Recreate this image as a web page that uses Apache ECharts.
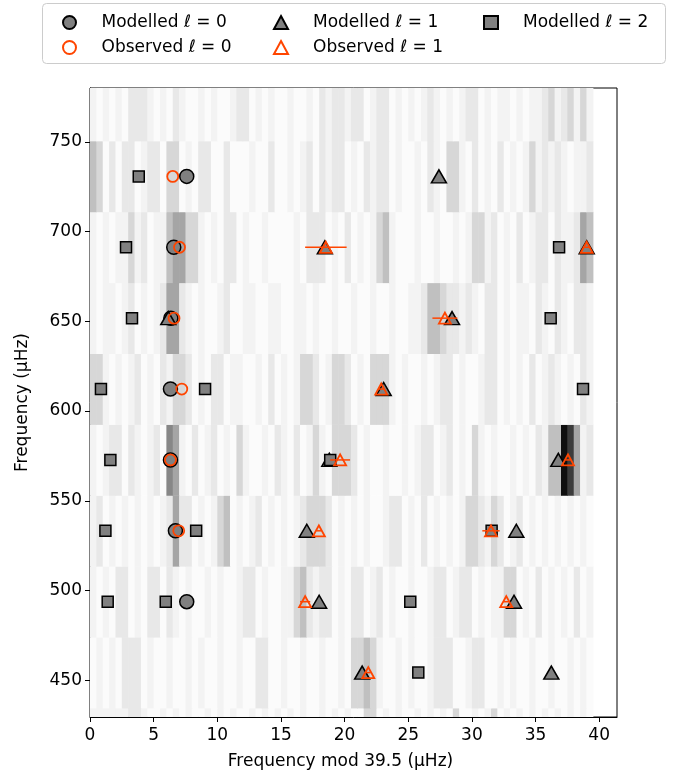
<!DOCTYPE html>
<html>
<head>
<meta charset="utf-8">
<script src="https://cdn.jsdelivr.net/npm/echarts@6/dist/echarts.min.js"></script>
<style>
  html, body { margin: 0; padding: 0; background: #fff; }
  #chart { width: 682px; height: 778px; }
</style>
</head>
<body>
<div id="chart"></div>
<script>
// Large frequency separation used to fold the spectrum (µHz)
const DELTA_NU = 39.5;
// Width of one power bin across each order (µHz)
const BIN_WIDTH = 0.5;

// Lower edge of each echelle order (µHz)
const orderStarts = [395, 434.5, 474, 513.5, 553, 592.5, 632, 671.5, 711, 750.5];

// Smoothed power per order, one digit (0 = none, 9 = max) per 0.5 µHz bin
const orderPower = [
  "1111112210" + "0101010010" + "1010010101" + "0101001010" + "1003301010" + "0101010300" + "1013010101" + "010101010",
  "0101022201" + "0010010100" + "1001002200" + "1001001001" + "0334310010" + "1001222001" + "2200101001" + "001001010",
  "1010220102" + "2021010010" + "1001220100" + "1134212201" + "0220120100" + "1001220122" + "0101133010" + "201010201",
  "1201010101" + "0125220101" + "3401012010" + "1012333201" + "0101001220" + "1020101013" + "3213201201" + "010101010",
  "1012202101" + "2065102012" + "0103100102" + "1020131033" + "3201001001" + "0122012010" + "3101001010" + "214498512",
  "3310101201" + "0213320102" + "2011001020" + "1013320133" + "2010333101" + "0010122010" + "0122010102" + "012101021",
  "1011012010" + "1255210100" + "1200110011" + "0011010010" + "0100100100" + "1124432212" + "1022010110" + "210210221",
  "1010113120" + "1145533101" + "0220100100" + "0010222010" + "2010134100" + "0100100101" + "3312010201" + "220211254",
  "4302022012" + "2033010220" + "0200010020" + "0101202122" + "0102122010" + "0102103310" + "2010201013" + "121210112",
  "1010102221" + "0102100101" + "0012201010" + "0100102122" + "1220122010" + "1012101012" + "2010110101" + "123123131"
];

// Mode positions: [frequency mod 39.5, order centre] in µHz
const modelledL0 = [
  [7.60, 730.75], [6.58, 691.25], [6.35, 651.75], [6.32, 612.25],
  [6.32, 572.75], [6.71, 533.25], [7.60, 493.75]
];
const modelledL1 = [
  [27.41, 730.75], [18.45, 691.25], [39.02, 691.25], [6.15, 651.75],
  [28.44, 651.75], [23.07, 612.25], [18.80, 572.75], [36.79, 572.75],
  [17.03, 533.25], [33.49, 533.25], [18.00, 493.75], [33.31, 493.75],
  [21.38, 454.25], [36.24, 454.25]
];
const modelledL2 = [
  [3.83, 730.75], [2.83, 691.25], [36.85, 691.25], [3.30, 651.75],
  [36.19, 651.75], [0.86, 612.25], [9.04, 612.25], [38.73, 612.25],
  [1.60, 572.75], [18.87, 572.75], [1.21, 533.25], [8.34, 533.25],
  [31.55, 533.25], [1.39, 493.75], [5.95, 493.75], [25.16, 493.75],
  [25.79, 454.25]
];
// Observed modes: [frequency mod 39.5, order centre, 1-sigma uncertainty]
const observedL0 = [
  [6.50, 730.75, 0.1], [7.03, 691.25, 0.1], [6.60, 651.75, 0.1],
  [7.21, 612.25, 0.1], [6.32, 572.75, 0.1], [6.97, 533.25, 0.1]
];
const observedL1 = [
  [18.53, 691.25, 1.63], [39.02, 691.25, 0.3], [27.88, 651.75, 0.98],
  [22.88, 612.25, 0.2], [19.65, 572.75, 0.78], [37.55, 572.75, 0.2],
  [17.98, 533.25, 0.2], [31.50, 533.25, 0.68], [16.90, 493.75, 0.4],
  [32.70, 493.75, 0.2], [21.86, 454.25, 0.2]
];

const xTicks = [0, 5, 10, 15, 20, 25, 30, 35, 40];
const yTicks = [450, 500, 550, 600, 650, 700, 750];

const seriesNames = ['Modelled ℓ = 0', 'Modelled ℓ = 1', 'Modelled ℓ = 2', 'Observed ℓ = 0', 'Observed ℓ = 1'];

// Build the power cells: [x0, x1, y0, y1, level]
const powerCells = [];
orderStarts.forEach((start, k) => {
  const row = orderPower[k];
  for (let i = 0; i < row.length; i++) {
    powerCells.push([i * BIN_WIDTH, (i + 1) * BIN_WIDTH, start, start + DELTA_NU, Number(row[i])]);
  }
});

// Grey colour ramp (white to black)
const greyRamp = [251, 243, 232, 215, 192, 165, 135, 100, 60, 15];
function greyOf(level) {
  const g = greyRamp[Math.max(0, Math.min(9, level))];
  return 'rgb(' + g + ',' + g + ',' + g + ')';
}

function renderCell(params, api) {
  const p0 = api.coord([api.value(0), api.value(3)]);
  const p1 = api.coord([api.value(1), api.value(2)]);
  const cs = params.coordSys;
  const rect = echarts.graphic.clipRectByRect(
    { x: p0[0], y: p0[1], width: p1[0] - p0[0] + 0.6, height: p1[1] - p0[1] + 0.4 },
    { x: cs.x, y: cs.y, width: cs.width, height: cs.height }
  );
  return rect && {
    type: 'rect',
    shape: rect,
    style: { fill: greyOf(api.value(4)) }
  };
}

function renderErrorBar(params, api) {
  const x = api.value(0), y = api.value(1), e = api.value(2);
  const a = api.coord([x - e, y]);
  const b = api.coord([x + e, y]);
  return {
    type: 'line',
    shape: { x1: a[0], y1: a[1], x2: b[0], y2: b[1] },
    style: { stroke: '#ff4500', lineWidth: 1.5 }
  };
}

const FONT = 'DejaVu Sans';
const FS = 17;
const ORANGE = '#ff4500';

function legendLabel(name) {
  const parts = name.split('ℓ');
  return '{g|}{t|' + parts[0] + '}{i|ℓ}{t|' + parts[1] + '}';
}
const legendBase = {
  orient: 'vertical',
  itemWidth: 14,
  itemHeight: 13,
  itemGap: 8,
  selectedMode: false,
  formatter: legendLabel,
  textStyle: {
    fontFamily: FONT,
    fontSize: FS,
    color: '#000',
    rich: {
      g: { width: 20 },
      t: { fontFamily: FONT, fontSize: FS, color: '#000', lineHeight: 20 },
      i: { fontFamily: FONT, fontSize: FS, fontStyle: 'italic', color: '#000', lineHeight: 20 }
    }
  }
};

const chart = echarts.init(document.getElementById('chart'), null, { renderer: 'canvas' });
chart.setOption({
  animation: false,
  backgroundColor: '#fff',
  textStyle: { fontFamily: FONT },
  graphic: [{
    type: 'rect',
    z: 0,
    shape: { x: 42.5, y: 3.5, width: 623, height: 60, r: 4 },
    style: { fill: '#fff', stroke: '#cccccc', lineWidth: 1 }
  }],
  legend: [
    Object.assign({}, legendBase, { left: 57, top: 9, data: [seriesNames[0], seriesNames[3]] }),
    Object.assign({}, legendBase, { left: 268, top: 9, data: [seriesNames[1], seriesNames[4]] }),
    Object.assign({}, legendBase, { left: 478, top: 9, data: [seriesNames[2]] })
  ],
  grid: {
    left: 90, right: 65, top: 88, bottom: 61,
    show: true, borderColor: '#000', borderWidth: 1, backgroundColor: 'transparent'
  },
  xAxis: {
    type: 'value',
    min: 0, max: 41.4,
    name: 'Frequency mod 39.5 (μHz)',
    nameLocation: 'middle',
    nameGap: 36,
    nameTextStyle: { fontFamily: FONT, fontSize: FS, color: '#000', padding: [0, 26, 0, 0] },
    axisLine: { show: true, onZero: false, lineStyle: { color: '#000', width: 1 } },
    axisTick: { show: true, length: 5, customValues: xTicks, lineStyle: { color: '#000' } },
    axisLabel: { customValues: xTicks, margin: 10, fontFamily: FONT, fontSize: FS, color: '#000' },
    splitLine: { show: false }
  },
  yAxis: {
    type: 'value',
    min: 429.5, max: 780,
    name: 'Frequency (μHz)',
    nameLocation: 'middle',
    nameGap: 59,
    nameTextStyle: { fontFamily: FONT, fontSize: FS, color: '#000' },
    axisLine: { show: true, onZero: false, lineStyle: { color: '#000', width: 1 } },
    axisTick: { show: true, length: 5, customValues: yTicks, lineStyle: { color: '#000' } },
    axisLabel: { customValues: yTicks, margin: 8, fontFamily: FONT, fontSize: FS, color: '#000' },
    splitLine: { show: false }
  },
  series: [
    {
      name: 'power',
      type: 'custom',
      renderItem: renderCell,
      data: powerCells,
      z: 1,
      silent: true
    },
    {
      name: seriesNames[0], type: 'scatter', z: 3, symbol: 'circle', symbolSize: 14,
      itemStyle: { color: '#808080', borderColor: '#000', borderWidth: 1.5, opacity: 1 },
      data: modelledL0
    },
    {
      name: seriesNames[1], type: 'scatter', z: 3, symbol: 'triangle', symbolSize: [15, 13],
      itemStyle: { color: '#808080', borderColor: '#000', borderWidth: 1.5, opacity: 1 },
      data: modelledL1
    },
    {
      name: seriesNames[2], type: 'scatter', z: 3, symbol: 'rect', symbolSize: 11,
      itemStyle: { color: '#808080', borderColor: '#000', borderWidth: 1.5, opacity: 1 },
      data: modelledL2
    },
    {
      name: 'l1 uncertainty', type: 'custom', z: 4, silent: true,
      renderItem: renderErrorBar,
      data: observedL1
    },
    {
      name: seriesNames[3], type: 'scatter', z: 5, symbol: 'circle', symbolSize: 11,
      itemStyle: { color: 'rgba(255,255,255,0)', borderColor: ORANGE, borderWidth: 1.8, opacity: 1 },
      data: observedL0.map(d => [d[0], d[1]])
    },
    {
      name: seriesNames[4], type: 'scatter', z: 5, symbol: 'triangle', symbolSize: [12, 11],
      itemStyle: { color: 'rgba(255,255,255,0)', borderColor: ORANGE, borderWidth: 1.8, opacity: 1 },
      data: observedL1.map(d => [d[0], d[1]])
    }
  ]
});
</script>
</body>
</html>
